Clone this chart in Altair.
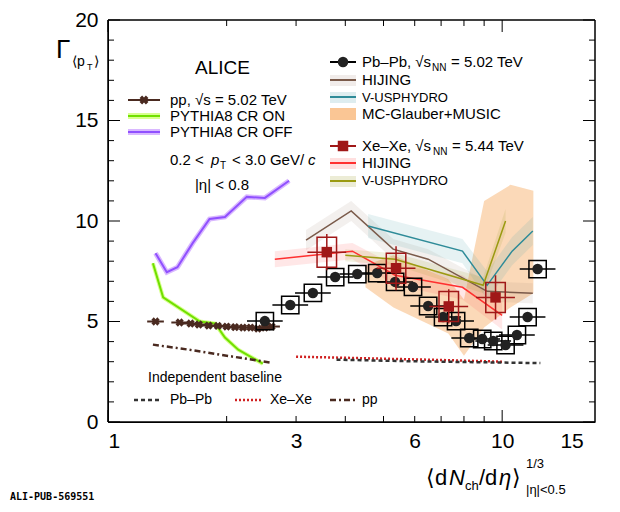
import altair as alt
import pandas as pd

FONT = "Liberation Sans"
W, H = 487, 402

# Pb-Pb data
pb_x = [2.50, 2.90, 3.31, 3.77, 4.29, 4.82, 5.35, 5.94, 6.49, 7.08, 7.64, 8.25, 8.90, 9.49, 10.2, 10.9, 11.6, 12.3]
pb_y = [5.02, 5.82, 6.42, 7.21, 7.36, 7.41, 6.97, 6.72, 5.77, 5.22, 5.02, 4.18, 4.13, 4.03, 3.83, 4.33, 5.22, 7.61]
# Xe-Xe data
xe_x = [3.59, 5.38, 7.32, 9.62]
xe_y = [8.45, 7.65, 5.75, 6.2]
xe_ey = [0.9, 1.1, 0.85, 1.1]
# pp data
pp_x = [1.32, 1.52, 1.62, 1.70, 1.80, 1.90, 2.00, 2.10, 2.20, 2.30, 2.40, 2.50, 2.60]
pp_y = [5.0, 4.95, 4.9, 4.85, 4.8, 4.78, 4.75, 4.72, 4.7, 4.7, 4.65, 4.7, 4.75]
# PYTHIA8
off_x = [1.32, 1.41, 1.50, 1.64, 1.81, 1.98, 2.25, 2.50, 2.88]
off_y = [8.4, 7.45, 7.7, 8.9, 10.1, 10.2, 11.2, 11.15, 12.0]
on_x = [1.30, 1.38, 1.71, 1.87, 1.98, 2.14, 2.47]
on_y = [7.9, 6.2, 5.0, 4.9, 4.2, 3.6, 2.9]
# Models Pb-Pb
hij_pb_x = [3.18, 4.14, 5.29, 6.49, 9.16, 11.96]
hij_pb_y = [9.05, 10.5, 8.6, 8.1, 6.5, 6.4]
hij_pb_e = [0.5, 0.5, 0.5, 0.5, 0.5, 0.5]
vus_pb_x = [4.57, 7.93, 9.16, 10.6, 11.96]
vus_pb_y = [9.75, 8.5, 6.8, 8.5, 9.5]
vus_pb_e = [0.6, 0.6, 0.7, 0.7, 0.7]
mus_x = [4.5, 5.3, 7.3, 8.0, 9.0, 10.5, 12.0]
mus_lo = [6.7, 5.7, 4.4, 3.3, 4.7, 5.7, 6.4]
mus_hi = [7.8, 8.3, 7.1, 6.1, 11.0, 11.8, 11.5]
# Models Xe-Xe
hij_xe_x = [2.65, 4.17, 5.35, 7.93, 10.0]
hij_xe_y = [8.1, 8.5, 7.3, 6.7, 5.3]
hij_xe_e = [0.4, 0.4, 0.5, 0.6, 0.7]
vus_xe_x = [4.0, 5.35, 8.95, 10.2]
vus_xe_y = [8.3, 8.1, 6.8, 10.0]
vus_xe_e = [0.3, 0.3, 0.4, 0.6]
# Baselines
bpp_x = [1.3, 1.6, 2.0, 2.6]
bpp_y = [3.85, 3.6, 3.3, 2.95]
bpb_x = [3.8, 6.0, 9.0, 12.5]
bpb_y = [3.1, 3.02, 2.97, 2.93]
bxe_x = [3.0, 5.0, 7.5, 10.0]
bxe_y = [3.25, 3.15, 3.07, 3.0]

xs = alt.Scale(type="log", domain=[1, 17.2], nice=False)
ys = alt.Scale(domain=[0, 20], nice=False)
x_axis = alt.Axis(values=[1, 3, 6, 10, 15], format="d", ticks=False, grid=False, title=None,
                  labelFontSize=21, labelFont=FONT, labelColor="black", domainColor="black", labelPadding=8)
y_axis = alt.Axis(values=[0, 5, 10, 15, 20], ticks=False, grid=False, title=None,
                  labelFontSize=21, labelFont=FONT, labelColor="black", domainColor="black", labelPadding=10)
X = lambda f: alt.X(f, scale=xs, axis=x_axis)
Y = lambda f: alt.Y(f, scale=ys, axis=y_axis)


def line(xv, yv, color, width=1.5, dash=None):
    kw = dict(color=color, strokeWidth=width, clip=True)
    if dash:
        kw["strokeDash"] = dash
    return alt.Chart(pd.DataFrame({"x": xv, "y": yv})).mark_line(**kw).encode(x=X("x:Q"), y=Y("y:Q"))


def band(xv, yv, e, color, op=0.25):
    d = pd.DataFrame({"x": xv, "lo": [a - b for a, b in zip(yv, e)], "hi": [a + b for a, b in zip(yv, e)]})
    return alt.Chart(d).mark_area(color=color, opacity=op).encode(x=X("x:Q"), y=Y("lo:Q"), y2="hi:Q")


layers = []
axis_df = pd.DataFrame({"x": [1, 17.2], "y": [0, 20]})
layers.append(alt.Chart(axis_df).mark_point(opacity=0).encode(x=X("x:Q"), y=Y("y:Q")))

# inward ticks
for side in ["left", "right"]:
    for v in range(21):
        L = 12 if v % 5 == 0 else 6
        x0, x1 = (0, L) if side == "left" else (W - L, W)
        layers.append(alt.Chart(pd.DataFrame({"y": [v]})).mark_rule(color="black").encode(
            y=Y("y:Q"), x=alt.value(x0), x2=alt.value(x1)))
for v in [1, 2, 3, 4, 5, 6, 7, 8, 9, 10]:
    L = 12 if v in (1, 10) else 6
    for y0, y1 in [(H - L, H), (0, L)]:
        layers.append(alt.Chart(pd.DataFrame({"x": [v]})).mark_rule(color="black").encode(
            x=X("x:Q"), y=alt.value(y0), y2=alt.value(y1)))
for (a, b, c, d) in [(0, W, 0, 0), (0, W, H, H), (0, 0, 0, H), (W, W, 0, H)]:
    layers.append(alt.Chart(axis_df).mark_rule(color="black").encode(
        x=alt.value(a), x2=alt.value(b), y=alt.value(c), y2=alt.value(d)))

# model bands
layers.append(alt.Chart(pd.DataFrame({"x": mus_x, "lo": mus_lo, "hi": mus_hi})).mark_area(color="#f9c089", opacity=0.6)
              .encode(x=X("x:Q"), y=Y("lo:Q"), y2="hi:Q"))
layers += [band(hij_pb_x, hij_pb_y, hij_pb_e, "#a08070", 0.12), band(vus_pb_x, vus_pb_y, vus_pb_e, "#5aa5b0", 0.15),
           band(hij_xe_x, hij_xe_y, hij_xe_e, "#ff6060", 0.15), band(vus_xe_x, vus_xe_y, vus_xe_e, "#a0a030", 0.15)]
layers += [line(hij_pb_x, hij_pb_y, "#7a5a4a"), line(vus_pb_x, vus_pb_y, "#2e8b98"),
           line(hij_xe_x, hij_xe_y, "#ff3030"), line(vus_xe_x, vus_xe_y, "#9a9a10")]

# PYTHIA
layers.append(line(off_x, off_y, "#d9b8ff", 5))
layers.append(line(off_x, off_y, "#9050ff", 2))
layers.append(line(on_x, on_y, "#d8ff90", 4))
layers.append(line(on_x, on_y, "#70e000", 2))

# baselines
layers.append(line(bpp_x, bpp_y, "#4a2a20", 2.5, [6, 3, 2, 3]))
layers.append(line(bxe_x, bxe_y, "#d02020", 2.5, [2, 2]))
layers.append(line(bpb_x, bpb_y, "#333333", 2.5, [4, 3]))

# pp data
pp = pd.DataFrame({"x": pp_x, "y": pp_y, "lo": [v / 1.05 for v in pp_x], "hi": [v * 1.05 for v in pp_x]})
layers.append(alt.Chart(pp).mark_rule(color="#4a2a20", strokeWidth=2).encode(x=X("lo:Q"), x2="hi:Q", y=Y("y:Q")))
layers.append(alt.Chart(pp).mark_point(shape="cross", filled=True, color="#4a2a20", size=70, angle=45, opacity=1)
              .encode(x=X("x:Q"), y=Y("y:Q")))

# Pb-Pb data
pb = pd.DataFrame({"x": pb_x, "y": pb_y, "lo": [v / 1.11 for v in pb_x], "hi": [v * 1.11 for v in pb_x]})
layers.append(alt.Chart(pb).mark_rule(color="black", strokeWidth=1.5).encode(x=X("lo:Q"), x2="hi:Q", y=Y("y:Q")))
layers.append(alt.Chart(pb).mark_point(shape="square", color="black", size=300, strokeWidth=1.5, opacity=1)
              .encode(x=X("x:Q"), y=Y("y:Q")))
layers.append(alt.Chart(pb).mark_circle(color="#222222", size=110, opacity=1).encode(x=X("x:Q"), y=Y("y:Q")))

# Xe-Xe data
xe = pd.DataFrame({"x": xe_x, "y": xe_y, "lo": [v / 1.12 for v in xe_x], "hi": [v * 1.12 for v in xe_x],
                   "ylo": [a - b for a, b in zip(xe_y, xe_ey)], "yhi": [a + b for a, b in zip(xe_y, xe_ey)]})
dark_red = "#a01818"
layers.append(alt.Chart(xe).mark_rule(color=dark_red, strokeWidth=1.5).encode(x=X("lo:Q"), x2="hi:Q", y=Y("y:Q")))
layers.append(alt.Chart(xe).mark_rule(color=dark_red, strokeWidth=1.5).encode(x=X("x:Q"), y=Y("ylo:Q"), y2="yhi:Q"))
layers.append(alt.Chart(xe).mark_point(shape="M-0.65,-1L0.65,-1L0.65,1L-0.65,1Z", color=dark_red, size=900,
                                       strokeWidth=1.5, opacity=1).encode(x=X("x:Q"), y=Y("y:Q")))
layers.append(alt.Chart(xe).mark_square(color=dark_red, size=110, opacity=1).encode(x=X("x:Q"), y=Y("y:Q")))


# legend / annotations (pixel positions)
def txt(t, px, py, size=15, align="left", color="black", font=FONT, style="normal", baseline="middle", weight="normal"):
    return alt.Chart(pd.DataFrame({"t": [t]})).mark_text(
        text=t, align=align, baseline=baseline, fontSize=size, color=color, font=font, fontStyle=style,
        fontWeight=weight
    ).encode(x=alt.value(px), y=alt.value(py))


def seg(x0, x1, py, color, width=2, dash=None):
    kw = dict(color=color, strokeWidth=width)
    if dash:
        kw["strokeDash"] = dash
    return alt.Chart(pd.DataFrame({"a": [0]})).mark_rule(**kw).encode(x=alt.value(x0), x2=alt.value(x1), y=alt.value(py))


def box(x0, x1, y0, y1, color, op):
    return alt.Chart(pd.DataFrame({"a": [0]})).mark_rect(color=color, opacity=op).encode(
        x=alt.value(x0), x2=alt.value(x1), y=alt.value(y0), y2=alt.value(y1))


layers += [
    txt("ALICE", 87, 48, 19),
    seg(20, 52, 80, "#4a2a20"),
    alt.Chart(pd.DataFrame({"a": [0]})).mark_point(shape="cross", filled=True, angle=45, color="#4a2a20", size=80, opacity=1)
    .encode(x=alt.value(36), y=alt.value(80)),
    txt("pp, √s = 5.02 TeV", 62, 80),
    box(20, 52, 93, 99, "#d8ff90", 1), seg(20, 52, 96, "#70e000"), txt("PYTHIA8 CR ON", 62, 96),
    box(20, 52, 109, 115, "#d9b8ff", 1), seg(20, 52, 112, "#9050ff"), txt("PYTHIA8 CR OFF", 62, 112),
    txt("0.2 <", 62, 140), txt("p", 103, 140, style="italic"), txt("T", 112, 146, 10),
    txt("< 3.0 GeV/", 124, 140), txt("c", 200, 140, style="italic"),
    txt("|η| < 0.8", 114, 165, 15, "center"),
    seg(222, 248, 42, "black"),
    alt.Chart(pd.DataFrame({"a": [0]})).mark_circle(color="#222222", size=110, opacity=1).encode(x=alt.value(235), y=alt.value(42)),
    txt("Pb–Pb, √s", 254, 42), txt("NN", 324, 48, 10), txt("= 5.02 TeV", 343, 42),
    box(222, 248, 55, 66, "#a08070", 0.15), seg(222, 248, 60, "#7a5a4a"), txt("HIJING", 254, 60),
    box(222, 248, 72, 83, "#5aa5b0", 0.2), seg(222, 248, 77, "#2e8b98"), txt("V-USPHYDRO", 254, 78, 13),
    box(222, 248, 88, 100, "#f9c089", 0.9), txt("MC-Glauber+MUSIC", 254, 94),
    seg(222, 248, 126, dark_red),
    alt.Chart(pd.DataFrame({"a": [0]})).mark_square(color=dark_red, size=110, opacity=1).encode(x=alt.value(235), y=alt.value(126)),
    txt("Xe–Xe, √s", 254, 126), txt("NN", 325, 132, 10), txt("= 5.44 TeV", 344, 126),
    box(222, 248, 138, 149, "#ff6060", 0.2), seg(222, 248, 143, "#ff3030"), txt("HIJING", 254, 143),
    box(222, 248, 156, 167, "#a0a030", 0.2), seg(222, 248, 161, "#9a9a10"), txt("V-USPHYDRO", 254, 161, 13),
    txt("Independent baseline", 107, 358, 14, "center"),
    seg(26, 52, 380, "#333333", 2.5, [4, 3]), txt("Pb–Pb", 62, 380, 14),
    seg(127, 154, 380, "#d02020", 2.5, [2, 2]), txt("Xe–Xe", 162, 380, 14),
    seg(222, 248, 380, "#4a2a20", 2.5, [6, 3, 2, 3]), txt("pp", 254, 380, 14),
    txt("Γ", -52, 30, 26),
    txt("⟨p", -36, 42, 14), txt("T", -21, 47, 9), txt("⟩", -14, 42, 14),
    txt("⟨d", 318, 458, 22), txt("N", 341, 458, 22, style="italic"), txt("ch", 357, 466, 13),
    txt("/d", 371, 458, 22), txt("η", 391, 458, 22, style="italic"), txt("⟩", 404, 458, 22),
    txt("1/3", 418, 444, 13),
    txt("|η|<0.5", 418, 470, 13),
    txt("ALI-PUB-569551", -98, 477, 10, font="DejaVu Sans Mono", weight="bold"),
]

chart = alt.layer(*layers).properties(
    width=W, height=H, autosize=alt.AutoSizeParams(type="none"),
    padding={"left": 100, "top": 12, "right": 17, "bottom": 82},
).configure_view(stroke=None)

chart.save("out.html", embed_options={"renderer": "svg", "actions": False})
